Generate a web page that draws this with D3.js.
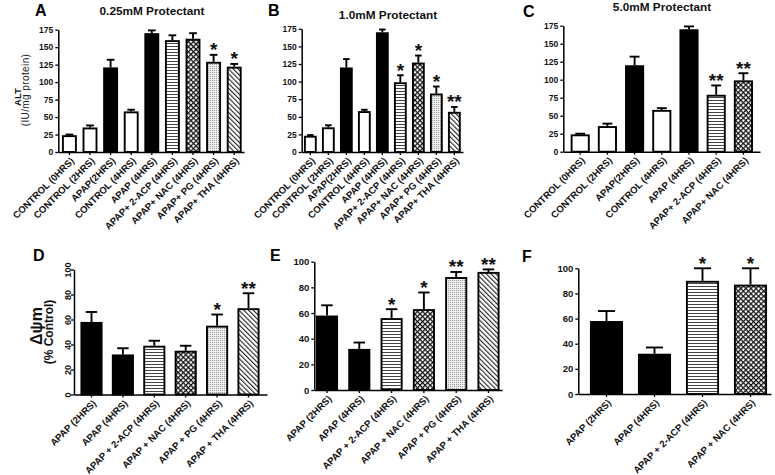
<!DOCTYPE html>
<html><head><meta charset="utf-8">
<script src="https://cdn.jsdelivr.net/npm/d3@7"></script>
<style>body{margin:0;background:#fff} svg{display:block;font-family:"Liberation Sans",Arial,sans-serif}</style>
</head><body><svg id="c" width="775" height="475"></svg>
<script>
// ---------- data ----------
const topCategories = ["CONTROL (0HRS)","CONTROL (2HRS)","APAP(2HRS)","CONTROL (4HRS)","APAP (4HRS)","APAP+ 2-ACP (4HRS)","APAP+ NAC (4HRS)","APAP+ PG (4HRS)","APAP+ THA (4HRS)"];
const topFills = ["ctrl","ctrl","apap","ctrl","apap","acp","nac","pg","tha"];
const bottomCategories = ["APAP (2HRS)","APAP (4HRS)","APAP + 2-ACP (4HRS)","APAP + NAC (4HRS)","APAP + PG (4HRS)","APAP + THA (4HRS)"];
const bottomFills = ["apap","apap","acp","nac","pg","tha"];

const altTicks = [0,25,50,75,100,125,150,175];
const dpsiTicks = [0,20,40,60,80,100];

const altA = [24,35,121,58,170,160,162,129,122];
const semA = [1,3,11,2.5,4,7,8,10,4];
const sigA = ["","","","","","","","*","*"];

const altB = [23,35,120,58,170,99,127,83,57];
const semB = [1,3,12,2,4,10,10,10,7];
const sigB = ["","","","","","*","*","*","**"];

const altC = [24,35.5,120,58,170,79,99];
const semC = [1,3.5,12,2.5,4,13,10];
const sigC = ["","","","","","**","**"];

const dpsiD = [58,32,39,35,55,69];
const semD = [8,5,4,4,9,12];
const sigD = ["","","","","*","**"];

const dpsiE = [58,32,56,63,88,92];
const semE = [8,5,7,13,4,2];
const sigE = ["","","*","*","**","**"];

const dpsiF = [58,32,90,87];
const semF = [8,5,10,13];
const sigF = ["","","*","*"];

// ---------- layout ----------
const svg = d3.select("#c");
const defs = svg.append("defs");
(function(){
  let p = defs.append("pattern").attr("id","pat-acp").attr("patternUnits","userSpaceOnUse").attr("width",4).attr("height",3);
  p.append("rect").attr("width",4).attr("height",3).attr("fill","#fff");
  p.append("rect").attr("y",1).attr("width",4).attr("height",1).attr("fill","#444");
  p = defs.append("pattern").attr("id","pat-nac").attr("patternUnits","userSpaceOnUse").attr("width",3.6).attr("height",3.6).attr("patternTransform","rotate(45)");
  p.append("rect").attr("width",3.6).attr("height",3.6).attr("fill","#fff");
  p.append("rect").attr("width",3.6).attr("height",1.25).attr("fill","#111");
  p.append("rect").attr("width",1.25).attr("height",3.6).attr("fill","#111");
  p = defs.append("pattern").attr("id","pat-pg").attr("patternUnits","userSpaceOnUse").attr("width",2).attr("height",2);
  p.append("rect").attr("width",2).attr("height",2).attr("fill","#eee");
  p.append("rect").attr("width",1).attr("height",1).attr("fill","#9a9a9a");
  p = defs.append("pattern").attr("id","pat-tha").attr("patternUnits","userSpaceOnUse").attr("width",3.4).attr("height",3.4).attr("patternTransform","rotate(-45)");
  p.append("rect").attr("width",3.4).attr("height",3.4).attr("fill","#fff");
  p.append("rect").attr("x",0).attr("width",1.1).attr("height",3.4).attr("fill","#222");
})();
const fillOf = k => k==="ctrl" ? "#fff" : k==="apap" ? "#000" : `url(#pat-${k})`;

const panels = [
  {letter:"A", lx:35, ly:16, title:"0.25mM Protectant", tx:152, ty:14.5, cats:topCategories, kinds:topFills, vals:altA, sem:semA, sig:sigA, ticks:altTicks, max:175, y0:152, y1:29.7, a0:58.3, a1:244, L:62, step:20.6, bw:14.8, ylab:"alt", tfs:8.5},
  {letter:"B", lx:268, ly:16, title:"1.0mM Protectant", tx:388, ty:18.5, cats:topCategories, kinds:topFills, vals:altB, sem:semB, sig:sigB, ticks:altTicks, max:175, y0:152, y1:28.8, a0:301.7, a1:463, L:304, step:18, bw:12.7, tfs:8.5},
  {letter:"C", lx:523, ly:16.5, title:"5.0mM Protectant", tx:662, ty:11, cats:topCategories.slice(0,7), kinds:topFills.slice(0,7), vals:altC, sem:semC, sig:sigC, ticks:altTicks, max:175, y0:151.7, y1:25.7, a0:563.3, a1:760, L:570.7, step:27.2, bw:19, tfs:8.5},
  {letter:"D", lx:33, ly:260.5, cats:bottomCategories, kinds:bottomFills, vals:dpsiD, sem:semD, sig:sigD, ticks:dpsiTicks, max:100, y0:394.5, y1:269.5, a0:74, a1:267, L:80.5, step:31.4, bw:22, ylab:"dpsi", rotTicks:true, tfs:9},
  {letter:"E", lx:270, ly:260.5, cats:bottomCategories, kinds:bottomFills, vals:dpsiE, sem:semE, sig:sigE, ticks:dpsiTicks, max:100, y0:390, y1:261.7, a0:314.3, a1:502, L:316, step:32.3, bw:22, tfs:9.5},
  {letter:"F", lx:522, ly:261.5, cats:bottomCategories.slice(0,4), kinds:bottomFills.slice(0,4), vals:dpsiF, sem:semF, sig:sigF, ticks:dpsiTicks, max:100, y0:394, y1:268.3, a0:578.3, a1:771, L:590, step:48, bw:33, tfs:9.5}
];

function drawPanel(p){
  const g = svg.append("g");
  const n = p.cats.length;
  const used = p.step*(n-1)+p.bw, left = (p.a1-p.a0)-used;
  const x = d3.scaleBand().domain(p.cats).range([p.a0,p.a1])
    .paddingInner((p.step-p.bw)/p.step).paddingOuter(left/(2*p.step)).align((p.L-p.a0)/left);
  const y = d3.scaleLinear().domain([0,p.max]).range([p.y0,p.y1]);
  const bw = x.bandwidth();
  const rows = p.cats.map((c,i)=>({c, v:p.vals[i], e:p.sem[i], k:p.kinds[i], s:p.sig[i]}));

  g.selectAll("rect.bar").data(rows).join("rect").attr("class","bar")
    .attr("x",d=>x(d.c)+0.9).attr("y",d=>y(d.v)+0.9)
    .attr("width",bw-1.8).attr("height",d=>y(0)-y(d.v)-0.9)
    .attr("fill",d=>fillOf(d.k)).attr("stroke","#000").attr("stroke-width",1.9);
  g.selectAll("line.err").data(rows).join("line").attr("class","err")
    .attr("x1",d=>x(d.c)+bw/2).attr("x2",d=>x(d.c)+bw/2)
    .attr("y1",d=>y(d.v)).attr("y2",d=>y(d.v+d.e))
    .attr("stroke","#000").attr("stroke-width",1.9);
  g.selectAll("line.cap").data(rows).join("line").attr("class","cap")
    .attr("x1",d=>x(d.c)+bw/2-bw*0.26).attr("x2",d=>x(d.c)+bw/2+bw*0.26)
    .attr("y1",d=>y(d.v+d.e)).attr("y2",d=>y(d.v+d.e))
    .attr("stroke","#000").attr("stroke-width",1.9);
  g.selectAll("text.sig").data(rows.filter(d=>d.s)).join("text").attr("class","sig")
    .attr("x",d=>x(d.c)+bw/2).attr("y",d=>y(d.v+d.e)+1.5)
    .attr("text-anchor","middle").attr("font-size",19).attr("font-weight","bold")
    .attr("fill","#111").text(d=>d.s);

  const ya = g.append("g").attr("transform",`translate(${p.a0},0)`)
    .call(d3.axisLeft(y).tickValues(p.ticks).tickSize(3).tickSizeOuter(0).tickPadding(2));
  ya.select(".domain").attr("stroke","#000").attr("stroke-width",1.5);
  ya.selectAll(".tick line").attr("stroke","#000").attr("stroke-width",1.3);
  ya.selectAll(".tick text").attr("font-size",p.tfs).attr("font-weight","bold").attr("fill","#111")
    .attr("font-family","'Liberation Sans',Arial,sans-serif");
  if(p.rotTicks){
    ya.selectAll(".tick text").attr("text-anchor","middle").attr("x",0).attr("dy",0)
      .attr("transform","translate(-3,0) rotate(-90)");
  }
  const xa = g.append("g").attr("transform",`translate(0,${p.y0})`)
    .call(d3.axisBottom(x).tickSize(3).tickSizeOuter(0));
  xa.select(".domain").attr("stroke","#000").attr("stroke-width",1.5);
  xa.selectAll(".tick line").attr("stroke","#000").attr("stroke-width",1.3);
  xa.selectAll(".tick text").attr("font-size",9.6).attr("font-weight","bold").attr("fill","#111")
    .attr("font-family","'Liberation Sans',Arial,sans-serif")
    .attr("text-anchor","end").attr("y",0).attr("dy","0.35em")
    .attr("transform","translate(3,7) rotate(-45)");

  svg.append("text").attr("x",p.lx).attr("y",p.ly).attr("font-size",16).attr("font-weight","bold").attr("fill","#000").text(p.letter);
  if(p.title) svg.append("text").attr("x",p.tx).attr("y",p.ty).attr("text-anchor","middle").attr("font-size",11.8).attr("font-weight","bold").attr("fill","#111").text(p.title);

  if(p.ylab==="alt"){
    svg.append("text").attr("transform","translate(20.5,97) rotate(-90)").attr("text-anchor","middle")
      .attr("font-size",9.5).attr("font-weight","bold").attr("fill","#111").text("ALT");
    svg.append("text").attr("transform","translate(28.5,90) rotate(-90)").attr("text-anchor","middle")
      .attr("font-size",10).attr("letter-spacing",0.4).attr("fill","#222").text("(IU/mg protein)");
  }
  if(p.ylab==="dpsi"){
    svg.append("text").attr("transform","translate(41.5,326) rotate(-90)").attr("text-anchor","middle")
      .attr("font-size",16).attr("font-weight","bold").attr("fill","#111").text("Δψm");
    svg.append("text").attr("transform","translate(53,332) rotate(-90)").attr("text-anchor","middle")
      .attr("font-size",12).attr("font-weight","bold").attr("fill","#111").text("(% Control)");
  }
}
panels.forEach(drawPanel);
</script></body></html>
